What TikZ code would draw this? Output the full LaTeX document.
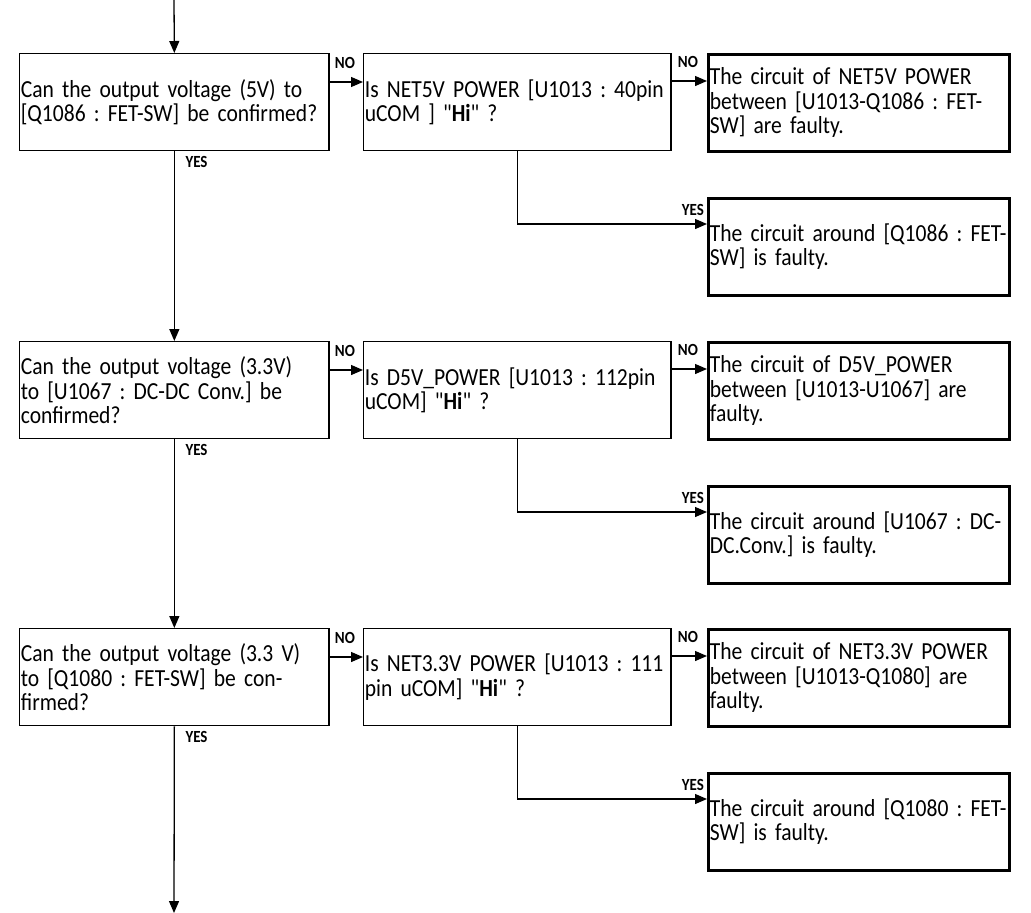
\documentclass[tikz,border=0pt]{standalone}
\usepackage{fontspec}
\setmainfont{Carlito}[Ligatures=TeXOff, FakeStretch=0.88, WordSpace=0.85]
\usetikzlibrary{arrows.meta,calc}
\newcommand\boxline[1]{\mbox{#1}}
\begin{document}
\frenchspacing
\begin{tikzpicture}[x=1pt,y=-1pt,
  txt/.style={font=\fontsize{24.5}{24.5}\selectfont},
  qbox/.style={txt, draw, line width=1.3pt, inner xsep=1.2pt, inner ysep=0pt,
    align=left, text width=#1, minimum height=97pt, anchor=north west},
  rbox/.style={txt, draw, line width=2.5pt, inner xsep=1.6pt, inner ysep=0pt,
    align=left, text width=#1, minimum height=97pt, anchor=north west},
  arr/.style={line width=1.3pt, -{Triangle[length=12pt,width=10pt]}},
  lbl/.style={font=\fontsize{17}{17}\selectfont\bfseries, inner sep=0pt}]
\useasboundingbox (0,0) rectangle (1031,913);

% ---------------- group 1 ----------------
\node[qbox=307pt] (q1) at (19,53) {\boxline{Can the output voltage (5V) to}\\\boxline{[Q1086 : FET-SW] be confirmed?}};
\node[qbox=305pt] (c1) at (363,53) {\boxline{Is NET5V POWER [U1013 : 40pin}\\\boxline{uCOM ] "\textbf{Hi}" ?}};
\node[rbox=298pt] (ra1) at (707,53) {\boxline{The circuit of NET5V POWER}\\\boxline{between [U1013-Q1086 : FET-}\\\boxline{SW] are faulty.}};
\node[rbox=298pt] (rb1) at (707,197) {\boxline{The circuit around [Q1086 : FET-}\\\boxline{SW] is faulty.}};

% ---------------- group 2 ----------------
\node[qbox=307pt] (q2) at (19,341) {\boxline{Can the output voltage (3.3V)}\\\boxline{to [U1067 : DC-DC Conv.] be}\\\boxline{confirmed?}};
\node[qbox=305pt] (c2) at (363,341) {\boxline{Is D5V\_POWER [U1013 : 112pin}\\\boxline{uCOM] "\textbf{Hi}" ?}};
\node[rbox=298pt] (ra2) at (707,341) {\boxline{The circuit of D5V\_POWER}\\\boxline{between [U1013-U1067] are}\\\boxline{faulty.}};
\node[rbox=298pt] (rb2) at (707,485) {\boxline{The circuit around [U1067 : DC-}\\\boxline{DC.Conv.] is faulty.}};

% ---------------- group 3 ----------------
\node[qbox=307pt] (q3) at (19,628) {\boxline{Can the output voltage (3.3 V)}\\\boxline{to [Q1080 : FET-SW] be con-}\\\boxline{firmed?}};
\node[qbox=305pt] (c3) at (363,628) {\boxline{Is NET3.3V POWER [U1013 : 111}\\\boxline{pin uCOM] "\textbf{Hi}" ?}};
\node[rbox=298pt] (ra3) at (707,628) {\boxline{The circuit of NET3.3V POWER}\\\boxline{between [U1013-Q1080] are}\\\boxline{faulty.}};
\node[rbox=298pt] (rb3) at (707,772) {\boxline{The circuit around [Q1080 : FET-}\\\boxline{SW] is faulty.}};

% ---------------- main flow ----------------
\coordinate (start) at (174,0);
\coordinate (finish) at (174,913);
\draw[arr] (start) -- (q1.north);
\draw[arr] (q1.south) -- (q2.north);
\draw[arr] (q2.south) -- (q3.north);
\draw[arr] (q3.south) -- (finish);

\foreach \i in {1,2,3}{
  \node[lbl, anchor=north west] (yq\i) at ($(q\i.south)+(11,5)$) {YES};
  % NO: question -> check
  \coordinate (nq\i) at ($(q\i.north east)+(0,29)$);
  \draw[arr] (nq\i) -- (nq\i -| c\i.west);
  \node[lbl, anchor=south west] (lq\i) at ($(nq\i)+(5,-13)$) {NO};
  % NO: check -> result A
  \coordinate (nc\i) at ($(c\i.north east)+(0,28)$);
  \draw[arr] (nc\i) -- (nc\i -| ra\i.west);
  \node[lbl, anchor=south west] (lc\i) at ($(nc\i)+(6,-13)$) {NO};
  % YES: check -> result B
  \coordinate (yc\i) at ($(rb\i.north west)+(0,27)$);
  \draw[arr] (c\i.south) |- (yc\i);
  \node[lbl, anchor=south east] (lyc\i) at ($(yc\i)+(-3,-8)$) {YES};
}
\end{tikzpicture}
\end{document}
